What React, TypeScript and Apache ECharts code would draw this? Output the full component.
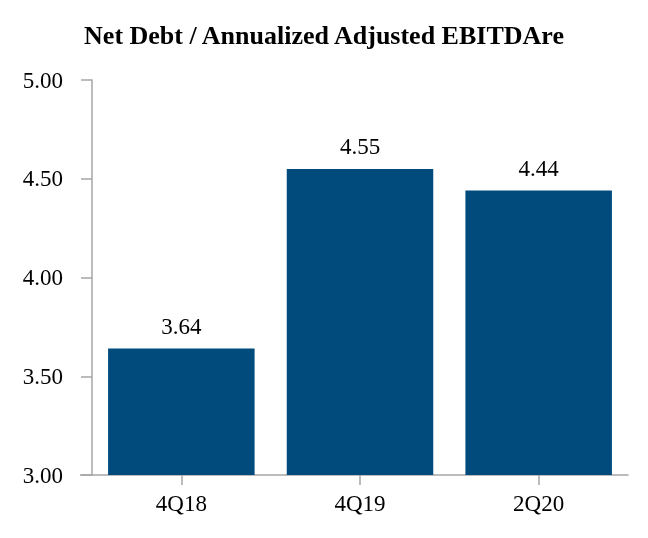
import React, { useEffect, useRef } from "react";
import * as echarts from "echarts";

const categories = ["4Q18", "4Q19", "2Q20"];
const values = [3.64, 4.55, 4.44];
const titleText = "Net Debt / Annualized Adjusted EBITDAre";

const FONT = "'Liberation Serif', 'Times New Roman', serif";

export default function App() {
  const ref = useRef<HTMLDivElement>(null);
  useEffect(() => {
    if (!ref.current) return;
    const chart = echarts.init(ref.current, undefined, { renderer: "svg" });
    chart.setOption({
      animation: false,
      title: {
        text: titleText,
        left: "center",
        top: 17,
        textStyle: { fontFamily: FONT, fontSize: 26, fontWeight: "bold", color: "#000" },
      },
      grid: { left: 92, right: 20, top: 80, bottom: 63 },
      xAxis: {
        type: "category",
        data: categories,
        axisLine: { show: true, lineStyle: { color: "#A6A6A6", width: 1.5 } },
        axisTick: { show: true, alignWithLabel: true, length: 10, lineStyle: { color: "#A6A6A6", width: 1.5 } },
        axisLabel: { fontFamily: FONT, fontSize: 23, color: "#000", margin: 17 },
      },
      yAxis: {
        type: "value",
        min: 3,
        max: 5,
        interval: 0.5,
        axisLine: { show: true, lineStyle: { color: "#A6A6A6", width: 1.5 } },
        axisTick: { show: true, length: 11, lineStyle: { color: "#A6A6A6", width: 1.5 } },
        splitLine: { show: false },
        axisLabel: {
          fontFamily: FONT,
          fontSize: 23,
          color: "#000",
          margin: 29,
          formatter: (v: number) => v.toFixed(2),
        },
      },
      graphic: [
        {
          type: "line",
          shape: { x1: 80, y1: 475, x2: 92, y2: 475 },
          style: { stroke: "#A6A6A6", lineWidth: 1.5 },
        },
      ],
      series: [
        {
          type: "bar",
          data: values,
          barCategoryGap: "18%",
          itemStyle: { color: "#004A7C" },
          label: {
            show: true,
            position: "top",
            distance: 11,
            fontFamily: FONT,
            fontSize: 23,
            color: "#000",
            formatter: (p: any) => Number(p.value).toFixed(2),
          },
        },
      ],
    });
    return () => chart.dispose();
  }, []);
  return <div ref={ref} style={{ position: "fixed", left: 0, top: 0, width: 648, height: 538 }} />;
}
